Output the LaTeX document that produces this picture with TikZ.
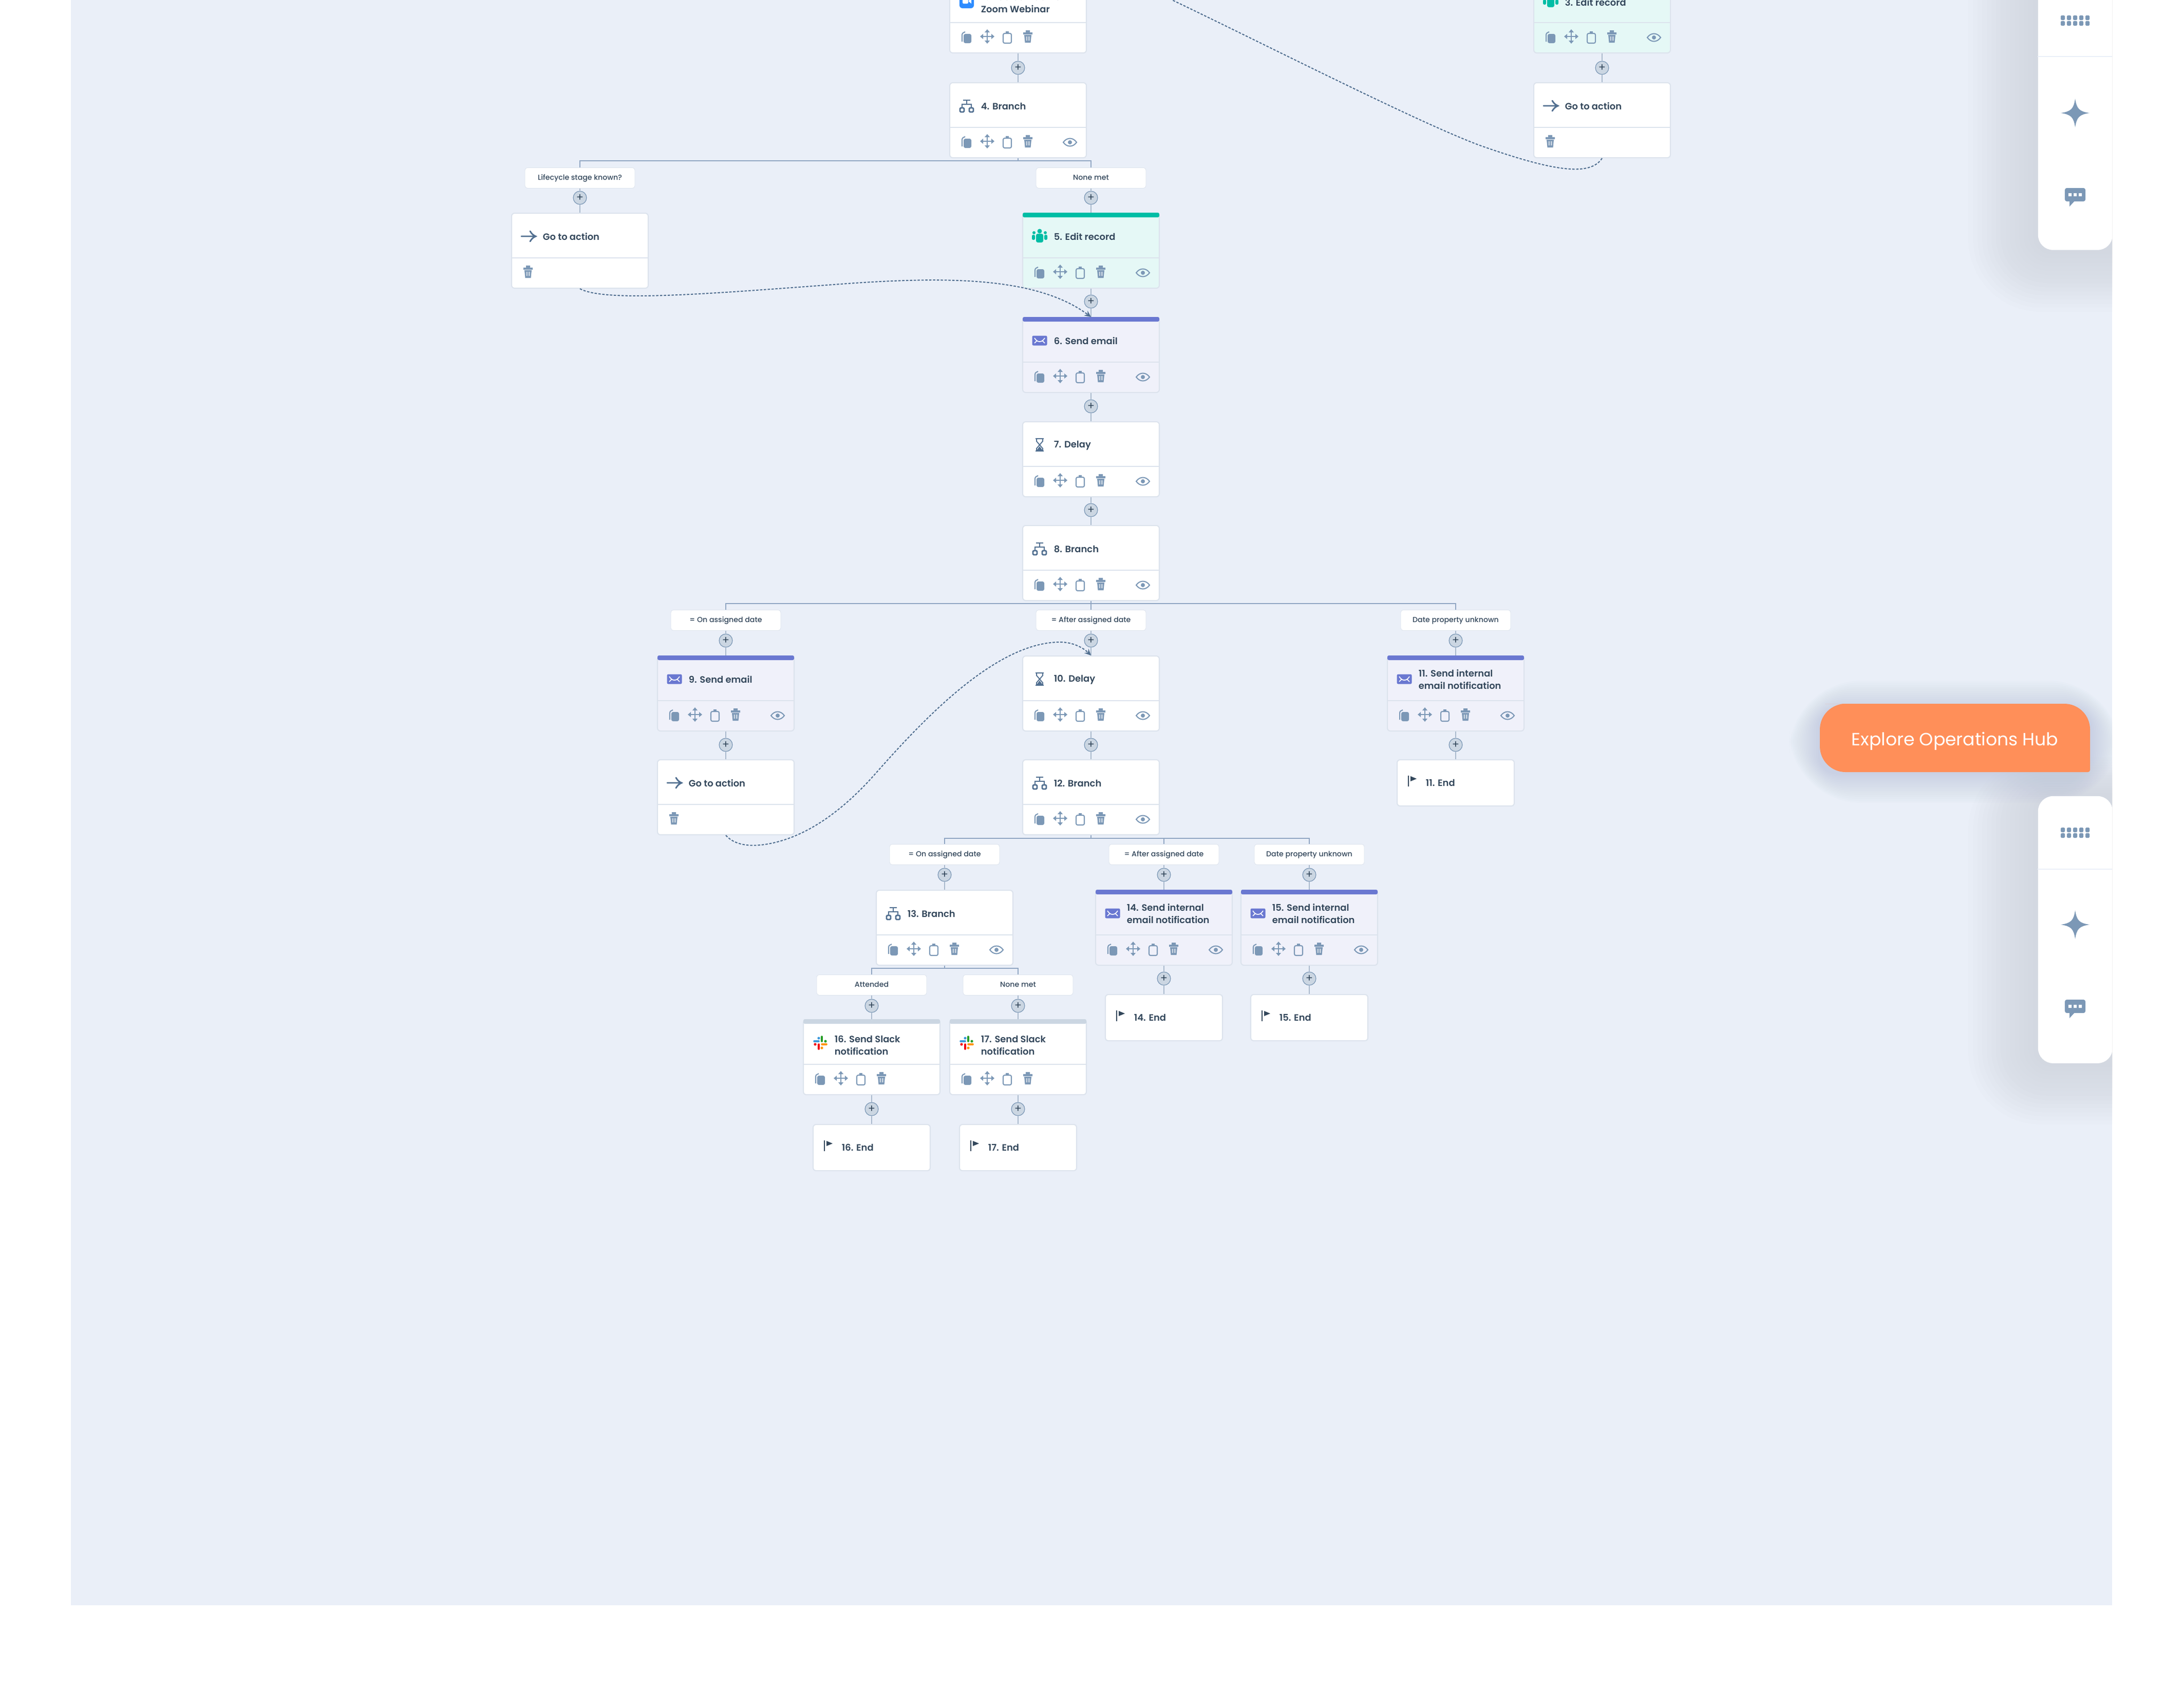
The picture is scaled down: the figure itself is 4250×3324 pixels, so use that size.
\documentclass[tikz,border=0pt]{standalone}
\usepackage{fontspec}
\setmainfont{Poppins}[BoldFont={Poppins SemiBold}]
\newfontfamily\labelfont{Poppins Medium}
\usetikzlibrary{arrows.meta}

\definecolor{pagebg}{HTML}{EAEFF8}
\definecolor{edgegrey}{HTML}{DCE3ED}
\definecolor{linkgrey}{HTML}{A9B9CC}
\definecolor{barblue}{HTML}{8FA5C2}
\definecolor{toolblue}{HTML}{7C98B6}
\definecolor{slate}{HTML}{516F90}
\definecolor{ink}{HTML}{33475B}
\definecolor{plusfill}{HTML}{CBD6E2}
\definecolor{tealbar}{HTML}{00BDA5}
\definecolor{tealfill}{HTML}{E5F8F6}
\definecolor{mailbar}{HTML}{6A78D1}
\definecolor{mailfill}{HTML}{F0F1FA}
\definecolor{hubbtn}{HTML}{FF8F59}
\definecolor{halo}{HTML}{A7ADB6}
\definecolor{btnhalo}{HTML}{8FA8C4}
\definecolor{zoomblue}{HTML}{2D8CFF}

\tikzset{
  picflip/.style={yscale=-1},
  cardbox/.style={rectangle,rounded corners=1.4pt,draw=edgegrey,line width=0.5pt,fill=white,
    minimum width=63.84pt,minimum height=35.04pt,inner sep=0pt,anchor=north},
  endbox/.style={cardbox,minimum width=54.72pt,minimum height=21.6pt},
  labelbox/.style={rectangle,rounded corners=1.2pt,fill=white,draw=edgegrey,line width=0.2pt,
    minimum width=51.36pt,minimum height=9.6pt,inner sep=0pt,anchor=north,text=ink,
    text height=2.3pt,text depth=0.3pt,font=\labelfont\fontsize{3.4}{4}\selectfont},
  plusdot/.style={circle,minimum size=6.2pt,inner sep=0pt,fill=plusfill,draw=toolblue,line width=0.3pt,
    text=ink,font=\fontsize{5}{5}\selectfont},
  titletext/.style={anchor=west,inner sep=0pt,align=left,text=ink,
    font=\fontsize{4.3}{5.76}\selectfont\bfseries},
  link/.style={draw=linkgrey,line width=0.55pt},
  barlink/.style={draw=barblue,line width=0.55pt},
  dashflow/.style={draw=slate,line width=0.5pt,dash pattern=on 1.1pt off 0.7pt},
  toolfill/.style={fill=toolblue},
  toolline/.style={draw=toolblue,line width=0.5pt},
  iconline/.style={draw=slate,line width=0.7pt},
  iconcopy/.pic={
    \draw[toolline,rounded corners=0.6pt] (-9,8) -- (-9,-8) -- (-3,-11);
    \fill[toolfill,rounded corners=0.8pt] (-6,-7) rectangle (9,11);
  },
  iconmove/.pic={
    \draw[toolline] (-11,0) -- (11,0) (0,-11) -- (0,11);
    \fill[toolfill] (-14,0) -- (-8,-5) -- (-8,5) -- cycle (14,0) -- (8,-5) -- (8,5) -- cycle
      (0,-14) -- (-5,-8) -- (5,-8) -- cycle (0,14) -- (-5,8) -- (5,8) -- cycle;
  },
  iconclip/.pic={
    \draw[toolline,rounded corners=0.7pt] (-8,-8) rectangle (8,11);
    \fill[toolfill] (-3,-12) rectangle (3,-7);
  },
  icontrash/.pic={
    \fill[toolfill] (-9,-8) rectangle (9,-4) (-4,-12) rectangle (4,-8);
    \fill[toolfill] (-7,-3) -- (7,-3) -- (5.5,12) -- (-5.5,12) -- cycle;
    \fill[white,opacity=0.6] (-3.5,0) rectangle (-1,8) (1,0) rectangle (3.5,8);
  },
  iconeye/.pic={
    \draw[toolline] (-13,0) .. controls (-6,-10) and (6,-10) .. (13,0) .. controls (6,10) and (-6,10) .. (-13,0) -- cycle;
    \fill[toolfill] (0,0) circle (4);
  },
  iconbranch/.pic={
    \draw[iconline] (-7,-11) -- (7,-11) (0,-11) -- (0,-3) (-9,3) -- (-9,-3) -- (9,-3) -- (9,3);
    \draw[iconline,rounded corners=0.4pt] (-13,4) rectangle (-5,12) (5,4) rectangle (13,12);
  },
  iconarrow/.pic={
    \draw[iconline,line cap=round] (-14,0) -- (13,0) (3,-10) .. controls (6,-5) and (9,-2) .. (14,0) .. controls (9,2) and (6,5) .. (3,10);
  },
  iconhour/.pic={
    \draw[iconline] (-8,-12) -- (8,-12) (-8,12) -- (8,12);
    \draw[draw=slate,line width=0.45pt] (-6,-12) -- (-6,-7) -- (6,7) -- (6,12) (6,-12) -- (6,-7) -- (-6,7) -- (-6,12);
    \fill[slate] (-6,11) -- (6,11) -- (0,3) -- cycle;
  },
  iconmail/.pic={
    \fill[mailbar,rounded corners=0.6pt] (-14.5,-9.5) rectangle (14.5,9.5);
    \draw[white,line width=0.4pt] (-10,-5) .. controls (-6,1) and (-3,2) .. (0,2) .. controls (3,2) and (6,1) .. (10,-5)
      (-10,5) -- (-5,0) (10,5) -- (5,0);
  },
  iconpeople/.pic={
    \fill[tealbar] (0,-10) circle (4.5) (-11,-7) circle (3) (11,-7) circle (3);
    \fill[tealbar,rounded corners=0.8pt] (-7,-5) rectangle (7,12);
    \fill[tealbar,rounded corners=0.6pt] (-15,-3) rectangle (-9,7) (9,-3) rectangle (15,7);
  },
  iconflag/.pic={
    \draw[draw=ink,line width=0.55pt] (-8,-10) -- (-8,11);
    \fill[ink] (-4,-9) -- (8,-4) -- (-4,1) -- cycle;
  },
  iconzoom/.pic={
    \fill[zoomblue,rounded corners=1.4pt] (-14,-14) rectangle (14,14);
    \fill[white,rounded corners=0.5pt] (-8,-5) rectangle (3,5);
    \fill[white] (4,-1) -- (9,-5) -- (9,5) -- (4,1) -- cycle;
  },
  iconslack/.pic={
    \draw[line width=0.85pt,line cap=round,draw=cyan!70!blue!80] (-12,-3) -- (-3,-3);
    \fill[cyan!70!blue!80] (-3,-9) circle (2.6);
    \draw[line width=0.85pt,line cap=round,draw=green!55!black!85] (3,-12) -- (3,-3);
    \fill[green!55!black!85] (10,-3) circle (2.6);
    \draw[line width=0.85pt,line cap=round,draw=orange!85!yellow] (3,3) -- (12,3);
    \fill[orange!85!yellow] (3,10) circle (2.6);
    \draw[line width=0.85pt,line cap=round,draw=red!80!purple] (-3,3) -- (-3,12);
    \fill[red!80!purple] (-10,3) circle (2.6);
  },
  icongrid/.pic={
    \fill[toolfill,rounded corners=0.4pt] (-28,-10) rectangle (-20,-1) (-16,-10) rectangle (-8,-1) (-4,-10) rectangle (4,-1)
      (8,-10) rectangle (16,-1) (20,-10) rectangle (28,-1) (-28,1) rectangle (-20,10) (-16,1) rectangle (-8,10)
      (-4,1) rectangle (4,10) (8,1) rectangle (16,10) (20,1) rectangle (28,10);
  },
  iconstar/.pic={
    \fill[toolfill] (0,-28) .. controls (3,-8) and (8,-3) .. (28,0) .. controls (8,3) and (3,8) .. (0,28)
      .. controls (-3,8) and (-8,3) .. (-28,0) .. controls (-8,-3) and (-3,-8) .. (0,-28) -- cycle;
  },
  iconchat/.pic={
    \fill[toolfill] (-11,5) -- (-11,18) -- (1,5) -- cycle;
    \fill[toolfill,rounded corners=0.9pt] (-20,-18) rectangle (20,8);
    \fill[white] (-13,-8) rectangle (-7,-2) (-3,-8) rectangle (3,-2) (7,-8) rectangle (13,-2);
  },
}

% tool row of a card
\newcommand{\toolrow}{
  \pic[picflip] at (33,117) {iconcopy};
  \pic[picflip] at (73,115) {iconmove};
  \pic[picflip] at (112,117) {iconclip};
  \pic[picflip] at (152,115) {icontrash};
}
\newcommand{\eyeicon}{\pic[picflip] at (234,117) {iconeye};}
\newcommand{\trashonly}{\pic[picflip] at (32,115) {icontrash};}

% [title y]{name}{centre x}{top y}{fill}{icon}{title}
\newcommand{\flowcard}[7][47]{
  \node[cardbox,fill=#5] (#2) at (#3,#4) {};
  \begin{scope}[shift={(#3-133,#4)}]
    \draw[draw=edgegrey,line width=0.45pt] (0,88) -- (266,88);
    \pic[picflip] at (33,46) {#6};
    \node[titletext] (#2title) at (60,#1) {#7};
  \end{scope}
}
\newcommand{\cardtools}[3]{
  \begin{scope}[shift={(#1-133,#2)}]
    #3
  \end{scope}
}
\newcommand{\cardbar}[3]{\fill[#3,rounded corners=0.7pt] (#1-133,#2) rectangle (#1+133,#2+9);}
\newcommand{\stopcard}[4]{
  \node[endbox] (#1) at (#2,#3) {};
  \begin{scope}[shift={(#2-114,#3)}]
    \pic[picflip] at (30,42) {iconflag};
    \node[titletext] (#1title) at (55,46) {#4};
  \end{scope}
}

\begin{document}
\begin{tikzpicture}[x=0.24pt,y=0.24pt,yscale=-1,xscale=1]
\useasboundingbox (0,0) rectangle (4250,3324);
\clip (0,0) rectangle (4250,3324);

%Page
\fill[white] (0,0) rectangle (4250,3324);
\fill[pagebg] (138,0) rectangle (4112,3125);

%Soft shadows of panels and button
\begin{scope}
\clip (138,0) rectangle (4112,3125);
\foreach \k [evaluate=\k as \rad using 7+\k*1.8] in {1,...,15}{
  \fill[halo,opacity=0.018,rounded corners=\rad pt] (3967-\k*9,-150) rectangle (4300,487+\k*8);
  \fill[halo,opacity=0.018,rounded corners=\rad pt] (3967-\k*9,1549-\k*5) rectangle (4300,2069+\k*8);
  \fill[btnhalo,opacity=0.025,rounded corners=\rad pt] (3543-\k*4,1385-\k*4) rectangle (4069+\k*4,1503+\k*4);
}
\end{scope}

% Cards
\flowcard[50]{cardB}{1982}{-44}{white}{iconzoom}{2. Add contact to\\Zoom Webinar}
\cardtools{1982}{-44}{\toolrow}
\flowcard[49]{cardC}{3119}{-44}{tealfill}{iconpeople}{3. Edit record}
\cardbar{3119}{-44}{tealbar}
\cardtools{3119}{-44}{\toolrow\eyeicon}
\flowcard{cardD}{1982}{160}{white}{iconbranch}{4. Branch}
\cardtools{1982}{160}{\toolrow\eyeicon}
\flowcard{gotoC}{3119}{160}{white}{iconarrow}{Go to action}
\cardtools{3119}{160}{\trashonly}
\flowcard{gotoD}{1129}{414}{white}{iconarrow}{Go to action}
\cardtools{1129}{414}{\trashonly}
\flowcard{cardE}{2124}{414}{tealfill}{iconpeople}{5. Edit record}
\cardbar{2124}{414}{tealbar}
\cardtools{2124}{414}{\toolrow\eyeicon}
\flowcard{cardF}{2124}{617}{mailfill}{iconmail}{6. Send email}
\cardbar{2124}{617}{mailbar}
\cardtools{2124}{617}{\toolrow\eyeicon}
\flowcard{cardG}{2124}{820}{white}{iconhour}{7. Delay}
\cardtools{2124}{820}{\toolrow\eyeicon}
\flowcard{cardH}{2124}{1022}{white}{iconbranch}{8. Branch}
\cardtools{2124}{1022}{\toolrow\eyeicon}
\flowcard{cardI}{1413}{1276}{mailfill}{iconmail}{9. Send email}
\cardbar{1413}{1276}{mailbar}
\cardtools{1413}{1276}{\toolrow\eyeicon}
\flowcard{cardJ}{2124}{1276}{white}{iconhour}{10. Delay}
\cardtools{2124}{1276}{\toolrow\eyeicon}
\flowcard{cardK}{2834}{1276}{mailfill}{iconmail}{11. Send internal\\email notification}
\cardbar{2834}{1276}{mailbar}
\cardtools{2834}{1276}{\toolrow\eyeicon}
\flowcard{gotoI}{1413}{1478}{white}{iconarrow}{Go to action}
\cardtools{1413}{1478}{\trashonly}
\flowcard{cardL}{2124}{1478}{white}{iconbranch}{12. Branch}
\cardtools{2124}{1478}{\toolrow\eyeicon}
\stopcard{endK}{2834}{1478}{11. End}
\flowcard{cardM}{1839}{1732}{white}{iconbranch}{13. Branch}
\cardtools{1839}{1732}{\toolrow\eyeicon}
\flowcard{cardN}{2266}{1732}{mailfill}{iconmail}{14. Send internal\\email notification}
\cardbar{2266}{1732}{mailbar}
\cardtools{2266}{1732}{\toolrow\eyeicon}
\flowcard{cardO}{2549}{1732}{mailfill}{iconmail}{15. Send internal\\email notification}
\cardbar{2549}{1732}{mailbar}
\cardtools{2549}{1732}{\toolrow\eyeicon}
\stopcard{endN}{2266}{1935}{14. End}
\stopcard{endO}{2549}{1935}{15. End}
\flowcard[51]{cardP}{1697}{1984}{white}{iconslack}{16. Send Slack\\notification}
\cardbar{1697}{1984}{plusfill}
\cardtools{1697}{1984}{\toolrow}
\flowcard[51]{cardQ}{1982}{1984}{white}{iconslack}{17. Send Slack\\notification}
\cardbar{1982}{1984}{plusfill}
\cardtools{1982}{1984}{\toolrow}
\stopcard{endP}{1697}{2188}{16. End}
\stopcard{endQ}{1982}{2188}{17. End}

% Branch labels
\node[labelbox] (labD1) at (1129,326) {Lifecycle stage known?};
\node[labelbox] (labD2) at (2124,326) {None met};
\node[labelbox] (labH1) at (1413,1187) {= On assigned date};
\node[labelbox] (labH2) at (2124,1187) {= After assigned date};
\node[labelbox] (labH3) at (2834,1187) {Date property unknown};
\node[labelbox] (labL1) at (1839,1643) {= On assigned date};
\node[labelbox] (labL2) at (2266,1643) {= After assigned date};
\node[labelbox] (labL3) at (2549,1643) {Date property unknown};
\node[labelbox] (labM1) at (1697,1897) {Attended};
\node[labelbox] (labM2) at (1982,1897) {None met};

% Plus buttons
\node[plusdot] (plusB) at (1982,132) {+};
\node[plusdot] (plusC) at (3119,132) {+};
\node[plusdot] (plusD1) at (1129,385) {+};
\node[plusdot] (plusD2) at (2124,385) {+};
\node[plusdot] (plusE) at (2124,587) {+};
\node[plusdot] (plusF) at (2124,791) {+};
\node[plusdot] (plusG) at (2124,993) {+};
\node[plusdot] (plusH1) at (1413,1247) {+};
\node[plusdot] (plusH2) at (2124,1247) {+};
\node[plusdot] (plusH3) at (2834,1247) {+};
\node[plusdot] (plusI) at (1413,1450) {+};
\node[plusdot] (plusJ) at (2124,1450) {+};
\node[plusdot] (plusK) at (2834,1450) {+};
\node[plusdot] (plusL1) at (1839,1703) {+};
\node[plusdot] (plusL2) at (2266,1703) {+};
\node[plusdot] (plusL3) at (2549,1703) {+};
\node[plusdot] (plusN) at (2266,1905) {+};
\node[plusdot] (plusO) at (2549,1905) {+};
\node[plusdot] (plusM1) at (1697,1958) {+};
\node[plusdot] (plusM2) at (1982,1958) {+};
\node[plusdot] (plusP) at (1697,2159) {+};
\node[plusdot] (plusQ) at (1982,2159) {+};

%Straight Lines
\draw[link] (cardB) -- (plusB) -- (cardD);
\draw[link] (cardC) -- (plusC) -- (gotoC);
\draw[link] (labD1) -- (plusD1) -- (gotoD);
\draw[link] (labD2) -- (plusD2) -- (cardE);
\draw[link] (cardE) -- (plusE) -- (cardF);
\draw[link] (cardF) -- (plusF) -- (cardG);
\draw[link] (cardG) -- (plusG) -- (cardH);
\draw[link] (labH1) -- (plusH1) -- (cardI);
\draw[link] (labH2) -- (plusH2) -- (cardJ);
\draw[link] (labH3) -- (plusH3) -- (cardK);
\draw[link] (cardI) -- (plusI) -- (gotoI);
\draw[link] (cardJ) -- (plusJ) -- (cardL);
\draw[link] (cardK) -- (plusK) -- (endK);
\draw[link] (labL1) -- (plusL1) -- (cardM);
\draw[link] (labL2) -- (plusL2) -- (cardN);
\draw[link] (labL3) -- (plusL3) -- (cardO);
\draw[link] (cardN) -- (plusN) -- (endN);
\draw[link] (cardO) -- (plusO) -- (endO);
\draw[link] (labM1) -- (plusM1) -- (cardP);
\draw[link] (labM2) -- (plusM2) -- (cardQ);
\draw[link] (cardP) -- (plusP) -- (endP);
\draw[link] (cardQ) -- (plusQ) -- (endQ);

%Branch bars
\coordinate (barD) at (1982,313);
\coordinate (barH) at (2124,1175);
\coordinate (barL) at (2124,1632);
\coordinate (barM) at (1839,1885);
\draw[barlink] (cardD.south) -- (barD);
\draw[barlink] (labD1.north) |- (barD) -| (labD2.north);
\draw[barlink] (cardH.south) -- (barH);
\draw[barlink] (labH1.north) |- (barH) -| (labH3.north);
\draw[barlink] (barH) -- (labH2.north);
\draw[barlink] (cardL.south) -- (barL);
\draw[barlink] (labL1.north) |- (barL) -| (labL3.north);
\draw[barlink] (barL -| labL2.north) -- (labL2.north);
\draw[barlink] (cardM.south) -- (barM);
\draw[barlink] (labM1.north) |- (barM) -| (labM2.north);

%Curve Lines
\coordinate (offtop) at (2282,0);
\draw[dashflow] (gotoC.south) .. controls (3095,345) and (3020,332) .. (2881,283) .. controls (2760,238) and (2460,85) .. (offtop);
\draw[dashflow,-{Stealth[length=3pt,width=2.8pt]}] (gotoD.south) .. controls (1180,590) and (1400,570) .. (1650,552) .. controls (1850,538) and (2020,540) .. (cardF.north);
\draw[dashflow,-{Stealth[length=3pt,width=2.8pt]}] (gotoI.south) .. controls (1430,1645) and (1460,1650) .. (1500,1642) .. controls (1570,1628) and (1640,1580) .. (1707,1503) .. controls (1800,1398) and (1940,1250) .. (2064,1250) .. controls (2090,1250) and (2110,1262) .. (cardJ.north);

%Side panels
\begin{scope}
\clip (138,0) rectangle (4112,3125);
\node[rectangle,rounded corners=7pt,fill=white,minimum width=34.8pt,minimum height=131pt,inner sep=0pt,anchor=north west] (panelA) at (3967,-60) {};
\node[rectangle,rounded corners=7pt,fill=white,minimum width=34.8pt,minimum height=124.8pt,inner sep=0pt,anchor=north west] (panelB) at (3967,1549) {};
\draw[draw=pagebg,line width=0.4pt] (3967,110) -- (4112,110) (3967,1692) -- (4112,1692);
\end{scope}
\pic[picflip] at (4040,40) {icongrid};
\pic[picflip] at (4040,220) {iconstar};
\pic[picflip] at (4040,384) {iconchat};
\pic[picflip] at (4040,1621) {icongrid};
\pic[picflip] at (4040,1800) {iconstar};
\pic[picflip] at (4040,1964) {iconchat};

%Button
\fill[hubbtn] (3603,1370) [rounded corners=12pt] -- (4069,1370) [rounded corners=1pt] -- (4069,1503) [rounded corners=12pt] -- (3543,1503) -- (3543,1370) -- cycle;
\node[text=white,inner sep=0pt,font=\fontsize{8.3}{11}\selectfont] (explore) at (3806,1443) {Explore Operations Hub};

\end{tikzpicture}
\end{document}
